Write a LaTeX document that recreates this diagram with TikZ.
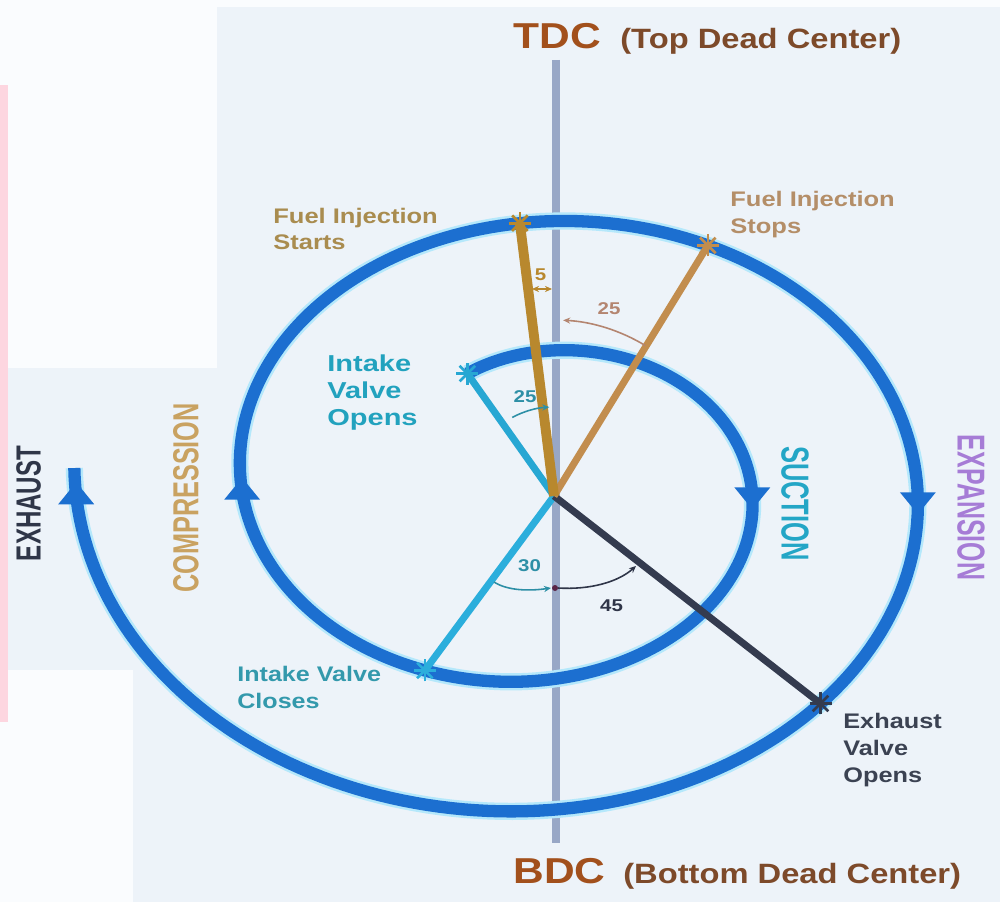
\documentclass[tikz,border=0pt]{standalone}
\usepackage{fontspec}
\setmainfont{Liberation Sans}
\usetikzlibrary{arrows.meta}
\definecolor{bg}{HTML}{EDF3F9}
\definecolor{wbg}{HTML}{FAFCFE}
\definecolor{pinkbg}{HTML}{FDD6E0}
\definecolor{sblue}{HTML}{1C6FD0}
\definecolor{halo}{HTML}{B5E8FB}
\definecolor{axiscol}{HTML}{98A7C6}
\definecolor{fisray}{HTML}{B8882E}
\definecolor{fislbl}{HTML}{A98C4F}
\definecolor{fstray}{HTML}{C28D4E}
\definecolor{fstlbl}{HTML}{B48E68}
\definecolor{ivoray}{HTML}{27A7D3}
\definecolor{ivolbl}{HTML}{22A2BE}
\definecolor{ivcray}{HTML}{2BAEDC}
\definecolor{ivclbl}{HTML}{3399AC}
\definecolor{evoray}{HTML}{343B4F}
\definecolor{evolbl}{HTML}{3B4252}
\definecolor{exhcol}{HTML}{2F3648}
\definecolor{compcol}{HTML}{C9A261}
\definecolor{succol}{HTML}{23A6C6}
\definecolor{expcol}{HTML}{A67CD6}
\definecolor{tdccol}{HTML}{A2501C}
\definecolor{parcol}{HTML}{7D4A2A}
\definecolor{brarc}{HTML}{B48570}
\definecolor{tealarc}{HTML}{2D8FA6}
\definecolor{darkarc}{HTML}{2F3548}
\newcommand\fsz[2]{\fontsize{#1}{#2}\selectfont\bfseries}
\newcommand\spx[1]{537.5+(172+0.461111*(#1))*sin(#1)}
\newcommand\spy[1]{483.75-(132+0.361111*(#1))*cos(#1)}
\begin{document}
\begin{tikzpicture}[x=0.02cm,y=-0.02cm,
  lbl/.style={inner sep=0pt, anchor=base west},
  num/.style={inner sep=0pt, anchor=center},
  vlbl/.style={inner sep=0pt, anchor=center},
  spiralline/.style={draw=sblue, line width=7pt, preaction={draw=halo, line width=9.8pt}},
  ray/.style={line width=4pt},
  anglearc/.style={line width=0.9pt, -{Stealth[length=4pt,width=3.5pt]}},
  headfill/.style={fill=sblue}
]
\useasboundingbox (0,0) rectangle (1000,902);
% background
\fill[bg] (0,0) rectangle (1000,902);
\fill[wbg] (0,0) rectangle (1000,7);
\fill[wbg] (0,0) rectangle (217,368);
\fill[wbg] (0,670) rectangle (133,902);
\fill[wbg] (0,0) rectangle (8,902);
\fill[pinkbg] (0,85) rectangle (8,722);

% axis
\coordinate (axtop) at (556,60);
\coordinate (axbot) at (556,843);
\draw[axiscol, line width=4pt] (axtop) -- (axbot);

% spiral
\draw[spiralline] plot[domain=-26:632.5, samples=400, variable=\t] ({\spx{\t}},{\spy{\t}});

% arrowheads on the spiral
\coordinate (hIR) at ({\spx{94}},{\spy{94}});
\coordinate (hOR) at ({\spx{453.2}},{\spy{453.2}});
\coordinate (hIL) at ({\spx{268}},{\spy{268}});
\coordinate (hOL) at ({\spx{628}},{\spy{628}});
\fill[headfill] (hIR) ++(-18,-8) -- ++(36,0) -- ++(-18,22) -- cycle;
\fill[headfill] (hOR) ++(-18,-8) -- ++(36,0) -- ++(-18,22) -- cycle;
\fill[headfill] (hIL) ++(-18,8) -- ++(36,0) -- ++(-18,-22) -- cycle;
\fill[headfill] (hOL) ++(-18,8) -- ++(36,0) -- ++(-18,-22) -- cycle;

% rays
\coordinate (O) at (554,496);
\coordinate (ivo) at ({\spx{-26}},{\spy{-26}});
\coordinate (ivc) at ({\spx{205}},{\spy{205}});
\coordinate (fis) at ({\spx{357}},{\spy{357}});
\coordinate (fst) at ({\spx{389}},{\spy{389}});
\coordinate (evo) at ({\spx{495}},{\spy{495}});
\draw[ray, ivcray] (O) -- (ivc);
\draw[ray, ivoray] (O) -- (ivo);
\draw[ray, evoray] (O) -- (evo);
\draw[ray, fstray] (O) -- (fst);
\draw[ray, fisray, line width=5.6pt] (O) -- (fis);

% star marks
\foreach \p/\c in {ivo/ivoray, ivc/ivcray, fis/fisray, fst/fstray, evo/evoray}{
  \foreach \a in {0,45,90,135}{
    \draw[\c, line width=1.5pt] (\p) ++(\a:11) -- ++(\a+180:22);
  }
}

% angle markers
\coordinate (a5l) at (532,289);
\coordinate (a5r) at (552,289);
\draw[fisray, line width=0.9pt, {Stealth[length=4pt,width=3.5pt]}-{Stealth[length=4pt,width=3.5pt]}] (a5l) -- (a5r);
\draw[brarc, anglearc] (O) ++(-58.8:176) arc[start angle=-58.8, end angle=-87, radius=176];
\draw[tealarc, anglearc] (O) ++(-118:89) arc[start angle=-118, end angle=-93, radius=89];
\coordinate (a30l) at (494,582);
\coordinate (a30r) at (551,588);
\draw[tealarc, anglearc] (a30l) .. controls (508,591) and (530,591) .. (a30r);
\coordinate (a45l) at (558,588);
\coordinate (a45r) at (636,566);
\draw[darkarc, anglearc] (a45l) .. controls (590,590) and (618,582) .. (a45r);
\fill[darkarc!70!purple] (555,588) circle[radius=3];

% angle numbers
\node[num, text=fisray] (n5) at (540.5,275) {\scalebox{1.2}[1]{\fsz{9.7}{11}5}};
\node[num, text=brarc] (n25a) at (609,309) {\scalebox{1.2}[1]{\fsz{9.7}{11}25}};
\node[num, text=tealarc] (n25b) at (525,397) {\scalebox{1.2}[1]{\fsz{9.7}{11}25}};
\node[num, text=tealarc] (n30) at (529.5,565.5) {\scalebox{1.2}[1]{\fsz{9.7}{11}30}};
\node[num, text=darkarc] (n45) at (611.5,605.5) {\scalebox{1.2}[1]{\fsz{9.7}{11}45}};

% titles
\node[lbl, text=tdccol] (tdc) at (513,49) {\scalebox{1.18}[1]{\fsz{20.5}{24}TDC}};
\node[lbl, text=parcol] (tdcfull) at (620,49) {\scalebox{1.17}[1]{\fsz{15.9}{19}(Top Dead Center)}};
\node[lbl, text=tdccol] (bdc) at (513,883) {\scalebox{1.18}[1]{\fsz{20.5}{24}BDC}};
\node[lbl, text=parcol] (bdcfull) at (623,883) {\scalebox{1.17}[1]{\fsz{15.9}{19}(Bottom Dead Center)}};

% event labels
\node[lbl, text=fislbl] (lfis) at (273,223) {\scalebox{1.21}[1]{\fsz{12}{14.8}\begin{tabular}[t]{@{}l@{}}Fuel Injection\\Starts\end{tabular}}};
\node[lbl, text=fstlbl] (lfst) at (730,207) {\scalebox{1.21}[1]{\fsz{12}{14.8}\begin{tabular}[t]{@{}l@{}}Fuel Injection\\Stops\end{tabular}}};
\node[lbl, text=ivolbl] (livo) at (327,371) {\scalebox{1.26}[1]{\fsz{13.1}{15.4}\begin{tabular}[t]{@{}l@{}}Intake\\Valve\\Opens\end{tabular}}};
\node[lbl, text=ivclbl] (livc) at (237,681) {\scalebox{1.19}[1]{\fsz{12}{15.4}\begin{tabular}[t]{@{}l@{}}Intake Valve\\Closes\end{tabular}}};
\node[lbl, text=evolbl] (levo) at (843,728) {\scalebox{1.2}[1]{\fsz{12}{15.4}\begin{tabular}[t]{@{}l@{}}Exhaust\\Valve\\Opens\end{tabular}}};

% stroke names
\node[vlbl, rotate=90, text=exhcol] (lexh) at (28.5,503.5) {\scalebox{1}[1.45]{\fsz{13.7}{16}EXHAUST}};
\node[vlbl, rotate=90, text=compcol] (lcomp) at (186,498) {\scalebox{1}[1.43]{\fsz{14.4}{16}COMPRESSION}};
\node[vlbl, rotate=-90, text=succol] (lsuc) at (795,503.5) {\scalebox{1}[1.53]{\fsz{14.5}{16}SUCTION}};
\node[vlbl, rotate=-90, text=expcol] (lexp) at (971,507.5) {\scalebox{1}[1.56]{\fsz{14.2}{16}EXPANSION}};
\end{tikzpicture}
\end{document}
